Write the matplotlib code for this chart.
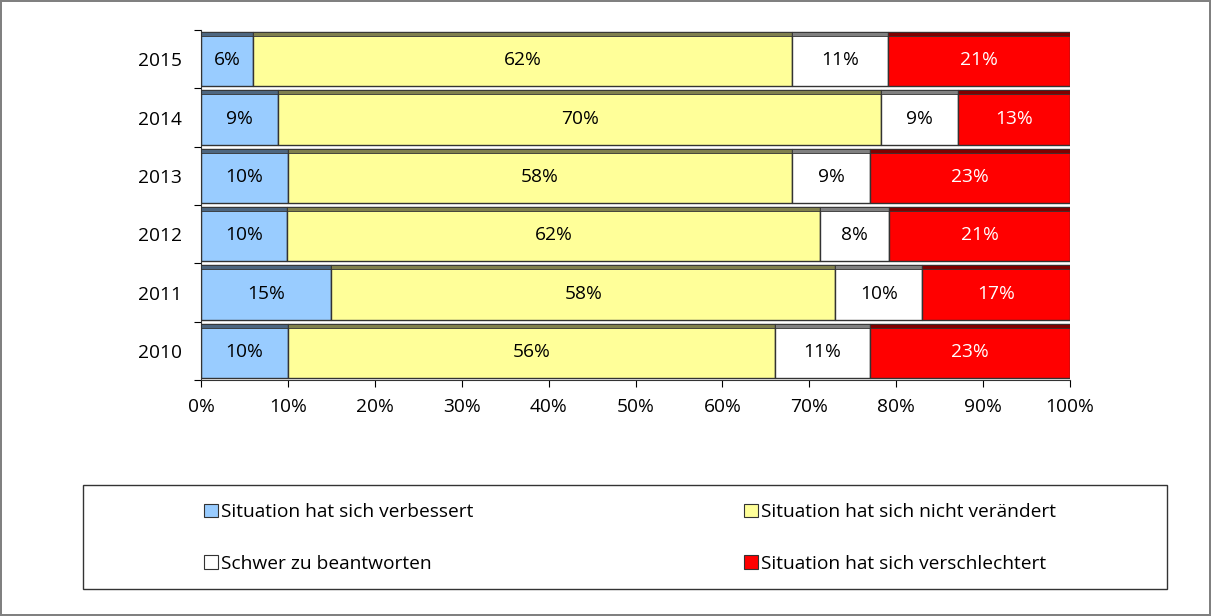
import matplotlib.pyplot as plt
from matplotlib.patches import Patch, Rectangle

plt.rcParams['font.family'] = ['Open Sans', 'DejaVu Sans']

years = ['2010', '2011', '2012', '2013', '2014', '2015']
improved = [10, 15, 10, 10, 9, 6]
unchanged = [56, 58, 62, 58, 70, 62]
hard_to_say = [11, 10, 8, 9, 9, 11]
worse = [23, 17, 21, 23, 13, 21]

series_names = ['Situation hat sich verbessert', 'Situation hat sich nicht verändert',
                'Schwer zu beantworten', 'Situation hat sich verschlechtert']
colors = ['#99CCFF', '#FFFF99', '#FFFFFF', '#FF0000']
top_colors = ['#4d6680', '#80804d', '#808080', '#800000']
text_colors = ['black', 'black', 'black', 'white']

series = [improved, unchanged, hard_to_say, worse]
totals = [sum(v) for v in zip(*series)]

fig = plt.figure(figsize=(12.11, 6.16), dpi=100)
fig.patch.set_edgecolor('#808080')
fig.patch.set_linewidth(1.5)
ax = fig.add_axes([201 / 1211, 1 - 380 / 616, 869 / 1211, 350 / 616])

y = list(range(len(years)))
bar_h = 0.93
strip = 0.07
left = [0.0] * len(years)
for vals, col, tcol, txtc in zip(series, colors, top_colors, text_colors):
    widths = [v / t * 100 for v, t in zip(vals, totals)]
    ax.barh(y, widths, left=left, height=bar_h, color=col, edgecolor='#333333', linewidth=1)
    # darker top strip imitating the 3D bar depth
    ax.barh([p + bar_h / 2 - strip / 2 for p in y], widths, left=left, height=strip,
            color=tcol, edgecolor='#333333', linewidth=0.6)
    for yi, l, w, v in zip(y, left, widths, vals):
        ax.text(l + w / 2, yi - 0.02, f'{v}%', ha='center', va='center', fontsize=13.8, color=txtc)
    left = [l + w for l, w in zip(left, widths)]

ax.set_xlim(0, 100)
ax.set_ylim(-0.5, len(years) - 0.5)
ax.set_xticks(range(0, 101, 10))
ax.set_xticklabels([f'{t}%' for t in range(0, 101, 10)], fontsize=13.8)
ax.set_yticks([p - 0.5 for p in range(len(years) + 1)])
ax.set_yticklabels([])
ax.set_yticks(y, minor=True)
ax.set_yticklabels(years, minor=True, fontsize=13.8)
ax.tick_params(axis='y', which='minor', length=0, pad=14)
ax.tick_params(axis='y', which='major', length=5, color='black')
ax.tick_params(axis='x', length=5, pad=8)
for s in ['top', 'right']:
    ax.spines[s].set_visible(False)
ax.spines['left'].set_color('#333333')
ax.spines['bottom'].set_color('#333333')

# legend box
fig.add_artist(Rectangle((83 / 1211, 1 - 589 / 616), 1084 / 1211, 104 / 616,
                         transform=fig.transFigure, facecolor='none',
                         edgecolor='#333333', linewidth=1))
handles = [Patch(facecolor=c, edgecolor='#333333', linewidth=0.8) for c in colors]
order = [0, 2, 1, 3]
fig.legend([handles[i] for i in order], [series_names[i] for i in order],
           loc='upper left', bbox_to_anchor=(187 / 1211, 1 - 486 / 616), ncol=2,
           frameon=False, fontsize=13.8, handlelength=0.7, handleheight=0.7,
           handletextpad=0.2, columnspacing=14.1, labelspacing=1.75)

fig.savefig('out.png', dpi=100)
